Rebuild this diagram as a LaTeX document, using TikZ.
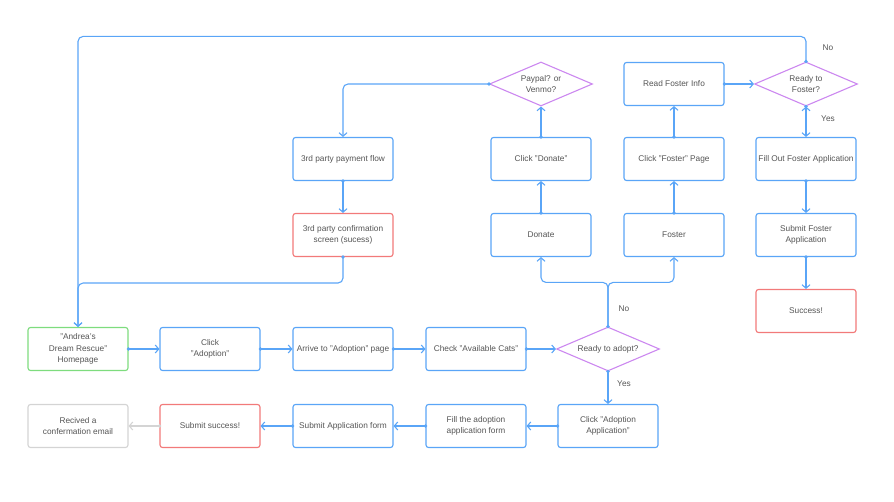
\documentclass[tikz,border=0pt]{standalone}
\usepackage{fontspec}
\setmainfont{Liberation Sans}
\usetikzlibrary{shapes.geometric,arrows.meta}
\definecolor{flowblue}{HTML}{5AA5F7}
\definecolor{okgreen}{HTML}{7EDC7E}
\definecolor{errred}{HTML}{F27A7A}
\definecolor{decpurple}{HTML}{CC88F0}
\definecolor{mutegray}{HTML}{D4D4D4}
\definecolor{txtgray}{HTML}{555555}
\tikzset{
  every node/.style={font=\fontsize{8.3}{11.5}\selectfont, text=txtgray},
  box/.style={draw=flowblue, line width=1.1pt, rounded corners=2.5pt,
    minimum width=100pt, minimum height=43pt, align=center, fill=white, inner sep=1pt},
  startbox/.style={box, draw=okgreen},
  donebox/.style={box, draw=errred},
  endbox/.style={box, draw=mutegray},
  decision/.style={diamond, draw=decpurple, line width=1.1pt, aspect=2.35,
    minimum width=103pt, minimum height=44pt, inner sep=0pt, align=center, fill=white},
  conn/.style={draw=flowblue, line width=1.1pt, rounded corners=5pt,
    -{Straight Barb[length=3.5pt,width=8pt]}},
  bothconn/.style={draw=flowblue, line width=1.1pt,
    {Straight Barb[length=3.5pt,width=8pt]}-{Straight Barb[length=3.5pt,width=8pt]}},
  muteconn/.style={conn, draw=mutegray},
  lbl/.style={inner sep=0pt},
  srcdot/.style={fill=flowblue},
  mutedot/.style={fill=mutegray}
}
\begin{document}
\begin{tikzpicture}[x=1pt,y=-1pt]
\useasboundingbox (0,0) rectangle (894,502);

% main adoption row
\node[startbox] (home)   at (78,349)  {"Andrea's\\Dream Rescue"\\Homepage};
\node[box]      (clickad) at (210,349) {Click\\"Adoption"};
\node[box]      (arrive)  at (343,349) {Arrive to "Adoption" page};
\node[box]      (check)   at (476,349) {Check "Available Cats"};
\node[decision] (adopt)   at (608,349) {Ready to adopt?};

% application row
\node[endbox]  (email)   at (78,426)  {Recived a\\confermation email};
\node[donebox] (subok)   at (210,426) {Submit success!};
\node[box]     (subform) at (343,426) {Submit Application form};
\node[box]     (fill)    at (476,426) {Fill the adoption\\application form};
\node[box]     (clickapp) at (608,426) {Click "Adoption\\Application"};

% donate / foster branches
\node[box]      (donate)  at (541,235) {Donate};
\node[box]      (foster)  at (674,235) {Foster};
\node[box]      (clickdon) at (541,159) {Click "Donate"};
\node[box]      (clickfos) at (674,159) {Click "Foster" Page};
\node[decision] (pay)     at (541,84)  {Paypal? or\\Venmo?};
\node[box]      (readfos) at (674,84)  {Read Foster Info};
\node[decision] (readyfos) at (806,84) {Ready to\\Foster?};
\node[box]      (fillfos) at (806,159) {Fill Out Foster Application};
\node[box]      (subfos)  at (806,235) {Submit Foster\\Application};
\node[donebox]  (fosok)   at (806,311) {Success!};

% third party payment
\node[box]     (tpflow) at (343,159) {3rd party payment flow};
\node[donebox] (tpconf) at (343,235) {3rd party confirmation\\screen (sucess)};

% adoption row connectors
\draw[conn] (home) -- (clickad);
\draw[conn] (clickad) -- (arrive);
\draw[conn] (arrive) -- (check);
\draw[conn] (check) -- (adopt);
\draw[conn] (adopt.south) -- (clickapp.north);
\node[lbl] (yesadopt) at (624,384) {Yes};
\draw[conn] (clickapp) -- (fill);
\draw[conn] (fill) -- (subform);
\draw[conn] (subform) -- (subok);
\draw[muteconn] (subok) -- (email);

% not ready: fork to donate and foster
\draw[conn] (adopt.north) -- ++(0,-44) -| (donate.south);
\draw[conn] (adopt.north) -- ++(0,-44) -| (foster.south);
\node[lbl] (noadopt) at (624,309) {No};

% donate path
\draw[conn] (donate) -- (clickdon);
\draw[conn] (clickdon) -- (pay);
\draw[conn] (pay.west) -| (tpflow.north);
\draw[conn] (tpflow) -- (tpconf);
\draw[conn] (tpconf.south) -- ++(0,26) -| (home.north);

% foster path
\draw[conn] (foster) -- (clickfos);
\draw[conn] (clickfos) -- (readfos);
\draw[conn] (readfos) -- (readyfos);
\draw[conn] (readyfos.north) -- ++(0,-25) -| (home.north);
\node[lbl] (nofos) at (828,48) {No};
\draw[bothconn] (readyfos.south) -- (fillfos.north);
\node[lbl] (yesfos) at (828,119) {Yes};
\draw[conn] (fillfos) -- (subfos);
\draw[conn] (subfos) -- (fosok);

% small dots where the connectors leave their nodes
\foreach \p in {home.east, clickad.east, arrive.east, check.east, adopt.south,
  adopt.north, clickapp.west, fill.west, subform.west, donate.north,
  clickdon.north, pay.west, tpflow.south, tpconf.south, foster.north,
  clickfos.north, readfos.east, readyfos.north, readyfos.south,
  fillfos.south, subfos.south}
  \fill[srcdot] (\p) circle (1.9pt);
\fill[mutedot] (subok.west) circle (1.9pt);
\end{tikzpicture}
\end{document}
